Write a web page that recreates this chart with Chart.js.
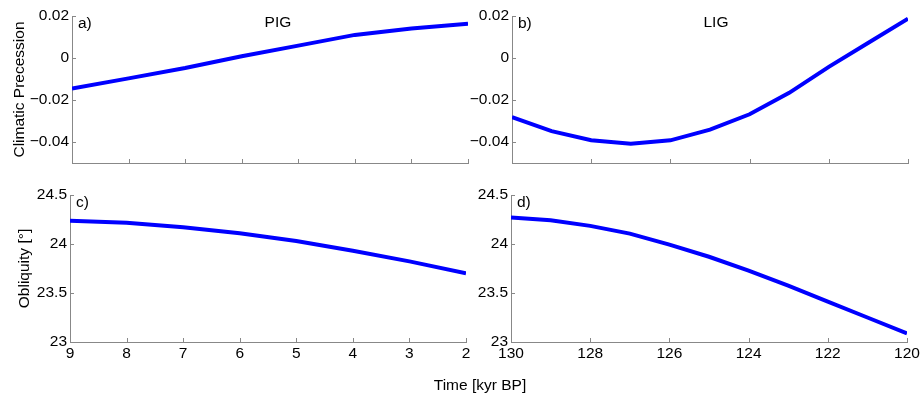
<!DOCTYPE html>
<html>
<head>
<meta charset="utf-8">
<script src="https://cdn.jsdelivr.net/npm/chart.js@4.4.0/dist/chart.umd.js"></script>
<style>
  body { margin: 0; background: #fff; }
  #wrap { position: relative; width: 922px; height: 395px; overflow: hidden; }
  canvas { position: absolute; }
  #xtitle {
    position: absolute; left: 380px; width: 200px; top: 376px;
    text-align: center; font: 15.5px 'Liberation Sans', Arial, sans-serif; color: #000;
  }
</style>
</head>
<body>
<div id="wrap">
  <canvas id="pa" style="left:0;top:0" width="480" height="180"></canvas>
  <canvas id="pb" style="left:440px;top:0" width="482" height="180"></canvas>
  <canvas id="pc" style="left:0;top:180px" width="480" height="200"></canvas>
  <canvas id="pd" style="left:440px;top:180px" width="482" height="200"></canvas>
  <div id="xtitle">Time [kyr BP]</div>
</div>
<script>
// --- data ---
const pigYears = [9, 8, 7, 6, 5, 4, 3, 2]
const pigPrecession = [-0.0145, -0.0097, -0.0048, 0.0008, 0.0059, 0.0110, 0.0141, 0.0163]
const pigObliquity = [24.238, 24.218, 24.170, 24.109, 24.031, 23.932, 23.823, 23.701]

const ligYears = [130, 129, 128, 127, 126, 125, 124, 123, 122, 121, 120]
const ligPrecession = [-0.0281, -0.0348, -0.0392, -0.0408, -0.0392, -0.0341, -0.0268, -0.0166, -0.0042, 0.0073, 0.0187]
const ligObliquity = [24.271, 24.243, 24.185, 24.106, 23.993, 23.870, 23.729, 23.575, 23.411, 23.250, 23.089]

// --- ticks ---
const pigXTicks = [9, 8, 7, 6, 5, 4, 3, 2]
const ligXTicks = [130, 128, 126, 124, 122, 120]
const precTicks = [0.02, 0, -0.02, -0.04]
const precTickLabels = ['0.02', '0', '\u22120.02', '\u22120.04']
const oblTicks = [24.5, 24, 23.5, 23]
const oblTickLabels = ['24.5', '24', '23.5', '23']

const FONT = "'Liberation Sans', Arial, sans-serif"
const FONT_SIZE = 15.5
const AXIS_COLOR = '#888'
const LINE_COLOR = '#0000ff'

// tick marks pointing inward (matlab style) + panel letter / title
const inwardTicks = {
  id: 'inwardTicks',
  afterDraw(chart, args, opts) {
    const ctx = chart.ctx
    const x = chart.scales.x
    const y = chart.scales.y
    const area = chart.chartArea
    ctx.save()
    ctx.strokeStyle = AXIS_COLOR
    ctx.lineWidth = 1
    ctx.beginPath()
    x.ticks.forEach(t => {
      const px = Math.round(x.getPixelForValue(t.value)) + 0.5
      ctx.moveTo(px, area.bottom)
      ctx.lineTo(px, area.bottom - 4)
    })
    y.ticks.forEach(t => {
      const py = Math.round(y.getPixelForValue(t.value)) + 0.5
      ctx.moveTo(area.left, py)
      ctx.lineTo(area.left + 4, py)
    })
    ctx.stroke()

    ctx.fillStyle = '#000'
    ctx.font = FONT_SIZE + 'px ' + FONT
    ctx.textBaseline = 'middle'
    ctx.textAlign = 'left'
    ctx.fillText(opts.letter, area.left + 6, area.top + 8)
    if (opts.title) {
      ctx.textAlign = 'center'
      ctx.fillText(opts.title, area.left + area.width * opts.titlePos, area.top + 7)
    }
    ctx.restore()
  }
}

function makePanel(canvasId, cfg) {
  const canvas = document.getElementById(canvasId)
  const ctx = canvas.getContext('2d')
  return new Chart(ctx, {
    type: 'line',
    data: {
      datasets: [{
        data: cfg.xs.map((v, i) => ({ x: v, y: cfg.ys[i] })),
        borderColor: LINE_COLOR,
        borderWidth: 4,
        pointRadius: 0,
        tension: 0,
        fill: false
      }]
    },
    options: {
      responsive: false,
      animation: false,
      events: [],
      layout: { padding: cfg.padding },
      plugins: {
        legend: { display: false },
        tooltip: { enabled: false },
        inwardTicks: { letter: cfg.letter, title: cfg.title, titlePos: cfg.titlePos }
      },
      scales: {
        x: {
          type: 'linear',
          reverse: true,
          min: Math.min(...cfg.xTicks),
          max: Math.max(...cfg.xTicks),
          afterBuildTicks: s => { s.ticks = cfg.xTicks.map(v => ({ value: v })) },
          afterFit: s => { s.height = cfg.xHeight },
          grid: { display: false, drawTicks: false },
          border: { display: true, color: AXIS_COLOR, width: 1 },
          ticks: {
            display: cfg.showXLabels,
            color: '#000',
            font: { family: FONT, size: FONT_SIZE },
            padding: 2,
            maxRotation: 0,
            autoSkip: false
          }
        },
        y: {
          type: 'linear',
          min: Math.min(...cfg.yTicks),
          max: cfg.yMax,
          afterBuildTicks: s => { s.ticks = cfg.yTicks.map(v => ({ value: v })) },
          afterFit: s => { s.width = cfg.yWidth },
          grid: { display: false, drawTicks: false },
          border: { display: true, color: AXIS_COLOR, width: 1 },
          ticks: {
            color: '#000',
            font: { family: FONT, size: FONT_SIZE },
            padding: 3,
            autoSkip: false,
            callback: v => {
              const i = cfg.yTicks.indexOf(v)
              return i >= 0 ? cfg.yLabels[i] : ''
            }
          },
          title: {
            display: !!cfg.yTitle,
            text: cfg.yTitle,
            color: '#000',
            font: { family: FONT, size: FONT_SIZE },
            padding: { top: cfg.yTitlePad, bottom: 0 }
          }
        }
      }
    },
    plugins: [inwardTicks]
  })
}

// precession axis runs down to -0.05
makePanel('pa', {
  xs: pigYears, ys: pigPrecession, xTicks: pigXTicks, showXLabels: false,
  yTicks: [-0.05, ...precTicks], yLabels: ['', ...precTickLabels], yMax: 0.02,
  yTitle: 'Climatic Precession', yTitlePad: 10,
  padding: { left: 0, right: 12, top: 16, bottom: 0 }, xHeight: 17, yWidth: 72,
  letter: 'a)', title: 'PIG', titlePos: 0.52
})
makePanel('pb', {
  xs: ligYears, ys: ligPrecession, xTicks: ligXTicks, showXLabels: false,
  yTicks: [-0.05, ...precTicks], yLabels: ['', ...precTickLabels], yMax: 0.02,
  yTitle: '', yTitlePad: 0,
  padding: { left: 0, right: 14, top: 16, bottom: 0 }, xHeight: 17, yWidth: 72,
  letter: 'b)', title: 'LIG', titlePos: 0.515
})
makePanel('pc', {
  xs: pigYears, ys: pigObliquity, xTicks: pigXTicks, showXLabels: true,
  yTicks: oblTicks, yLabels: oblTickLabels, yMax: 24.5,
  yTitle: 'Obliquity [\u00b0]', yTitlePad: 15,
  padding: { left: 0, right: 14, top: 15, bottom: 0 }, xHeight: 38, yWidth: 70,
  letter: 'c)'
})
makePanel('pd', {
  xs: ligYears, ys: ligObliquity, xTicks: ligXTicks, showXLabels: true,
  yTicks: oblTicks, yLabels: oblTickLabels, yMax: 24.5,
  yTitle: '', yTitlePad: 0,
  padding: { left: 0, right: 15, top: 15, bottom: 0 }, xHeight: 38, yWidth: 71,
  letter: 'd)'
})
</script>
</body>
</html>
